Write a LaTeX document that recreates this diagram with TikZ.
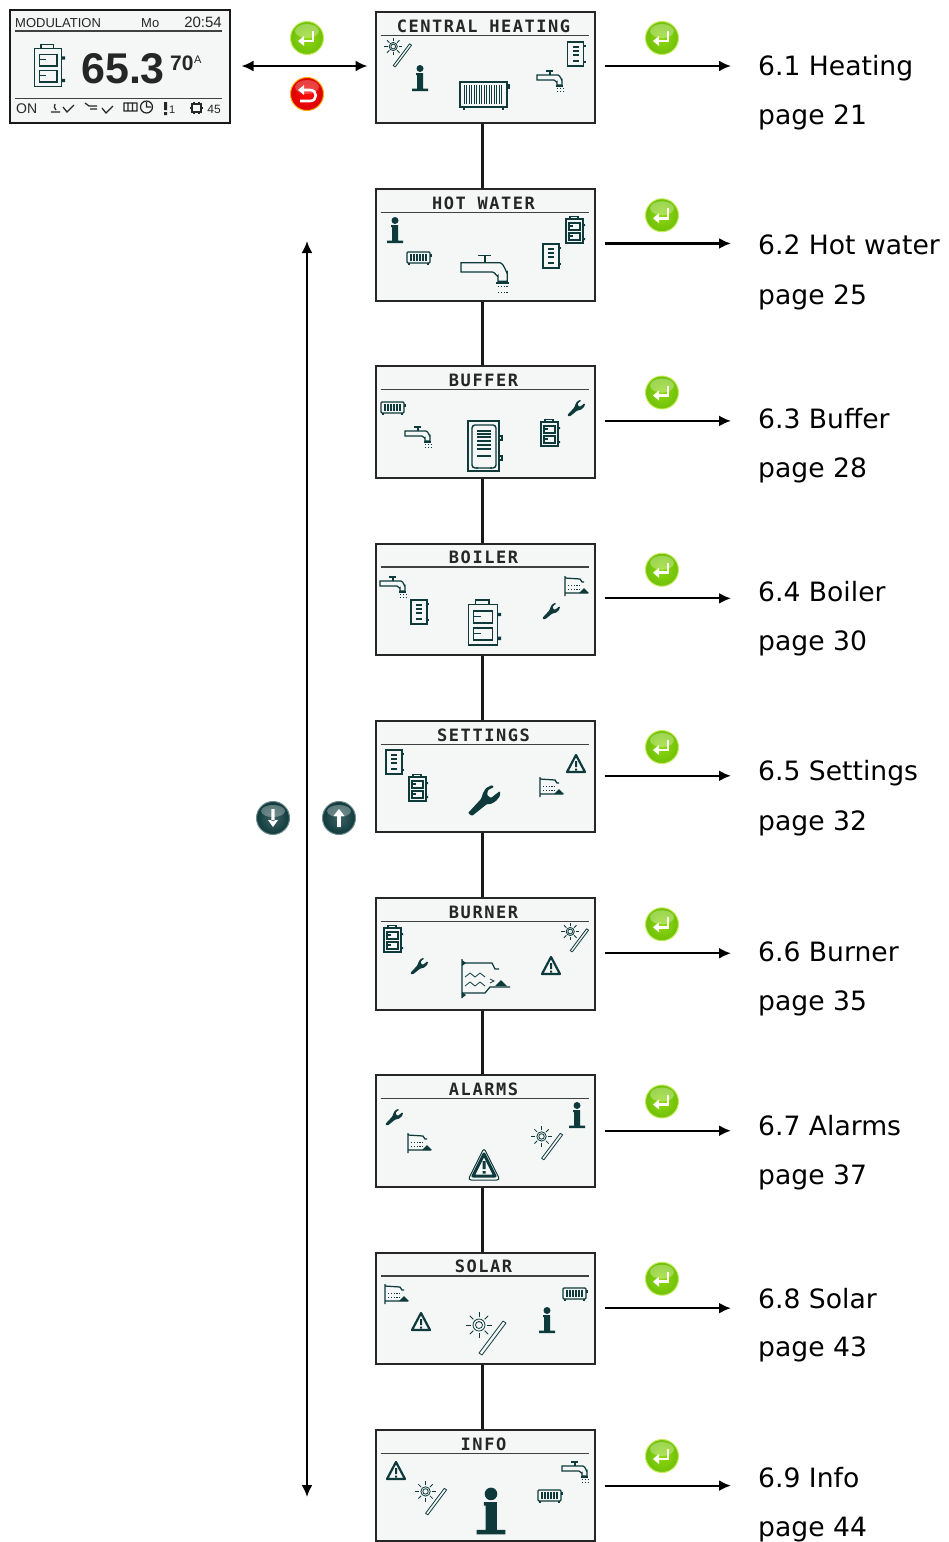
\documentclass[tikz,border=0pt]{standalone}
\usepackage{fontspec}
\setmainfont{DejaVu Sans}
\newfontfamily\lcdfont[LetterSpace=9]{DejaVu Sans Mono}
\newfontfamily\panelfont{Liberation Sans}
\usetikzlibrary{arrows.meta, calc}
\definecolor{lcdink}{HTML}{0F3A3C}
\definecolor{lcdback}{HTML}{F4F7F6}
\definecolor{framecolor}{HTML}{262626}
\tikzset{
    icon/.style={draw=lcdink, line width=1.25pt, fill=none},
    tinydots/.style={draw=lcdink, line width=1pt, dash pattern=on 1.2pt off 1.6pt},
    tapicon/.pic={
        \draw[icon] (-13,-5) -- (8,-5) to[out=0,in=-90] (12,0) -- (12,5) -- (7,5) -- (7,2) to[out=-90,in=0] (4,0) -- (-13,0) -- cycle;
        \draw[icon] (-4,-9) -- (3,-9) (0,-9) -- (0,-5) (6,6) -- (13,6);
        \draw[tinydots] (7,8) -- (13,8) (7,11) -- (13,11);
    },
    radicon/.pic={
        \draw[icon, rounded corners=1pt] (-12,-6) rectangle (11,5);
        \draw[icon] (-10,5) -- (-10,7) (9,5) -- (9,7);
        \fill[lcdink] (11,-4) rectangle (13,-1);
        \foreach \b in {-8,-5,...,7} \draw[icon] (\b,-4) -- (\b,3);
    },
    radbigicon/.pic={
        \draw[icon, line width=1.3pt] (-24,-13) rectangle (23,12);
        \draw[icon, line width=1.3pt] (-20,12) -- (-20,15) (19,12) -- (19,15);
        \fill[lcdink] (23,-11) rectangle (26,-6);
        \foreach \b in {-20,-17.5,...,19} \draw[icon, line width=.9pt] (\b,-10) -- (\b,9);
    },
    tankicon/.pic={
        \draw[icon, line width=1.3pt] (-8,-12) rectangle (8,12);
        \draw[icon] (8,-8) -- (10,-8) (8,8) -- (10,8);
        \foreach \b in {-7,-3,1,7} \draw[icon] (-3,\b) -- (3,\b);
    },
    tankbigicon/.pic={
        \draw[icon] (-16,-25) rectangle (15,25);
        \draw[icon, line width=1.4pt, rounded corners=3pt] (-12,-21) rectangle (12,22);
        \draw[icon] (15,-10) -- (18,-10) -- (18,-6) -- (15,-6) (15,10) -- (18,10) -- (18,14) -- (15,14);
        \foreach \b in {-15,-12,-9,-5,-1,3,10} \draw[icon] (-7,\b) -- (7,\b);
        \fill[lcdink] (-7,22) circle (1.2) (7,22) circle (1.2);
    },
    boilericon/.pic={
        \draw[icon, line width=1.3pt] (-9,-11) rectangle (8,13);
        \draw[icon] (-5,-11) -- (-5,-13.5) -- (3,-13.5) -- (3,-11);
        \draw[icon] (-6,-7) rectangle (5,0);
        \draw[icon] (-6,3) rectangle (5,10);
        \draw[icon] (-6,-4) -- (-2,-4) (-6,6) -- (-2,6);
        \fill[lcdink] (8,-6) rectangle (10,-4) (8,8) rectangle (10,10);
    },
    wrenchicon/.pic={
        \fill[lcdink, rounded corners=1pt] (-16,13) -- (-3,-1) -- (-1,-7) -- (2,-12) -- (8,-15) -- (10,-13) -- (4,-10) -- (3,-5) -- (7,-2) -- (12,-6) -- (16,-9) -- (16,-4) -- (12,1) -- (7,4) -- (3,4) -- (-12,16) -- cycle;
    },
    alerticon/.pic={
        \draw[icon, line width=2.2pt, line join=round] (0,-9) -- (9,8) -- (-9,8) -- cycle;
        \fill[lcdink] (-1,-3) rectangle (1,3) (-1,4.5) rectangle (1,6.5);
    },
    alertbigicon/.pic={
        \draw[icon, line width=1pt, line join=round, rounded corners=3pt] (0,-17) -- (16,15) -- (-16,15) -- cycle;
        \draw[icon, line width=3pt, line join=round] (0,-11) -- (11,11) -- (-11,11) -- cycle;
        \fill[lcdink] (-1.5,-4) rectangle (1.5,4) (-1.5,6) rectangle (1.5,8.5);
    },
    infoicon/.pic={
        \fill[lcdink] (0,-9.5) circle (3.5);
        \fill[lcdink] (-4,-5) rectangle (3.2,-3) (-3,-5) rectangle (3.2,11) (-8,10.5) rectangle (8,13);
    },
    solaricon/.pic={
        \draw[icon, line width=.8pt] (-7,-11) circle (6) (-7,-11) circle (3.5);
        \foreach \a in {0,45,...,315} \draw[icon, line width=.8pt] ($(-7,-11)+(\a:8)$) -- ($(-7,-11)+(\a:13)$);
        \draw[icon, line width=.8pt, line join=round] (17,-15) -- (20,-13) -- (-4,19) -- (-7,17) -- cycle;
    },
    feedericon/.pic={
        \draw[icon] (-11,-10) -- (-11,10) (-11,-8) -- (4,-7) -- (6,-4) -- (8,-4) (-11,7) -- (12,7);
        \fill[lcdink] (3,7) -- (8,2) -- (13,7) -- cycle;
        \draw[tinydots] (-8,-1) -- (4,-1) (-8,3) -- (4,3);
    },
    burnericon/.pic={
        \draw[icon] (-23,-19) -- (-23,20) (-23,-15) -- (7,-15) -- (10,-9) -- (14,-9) (-23,15) -- (0,15) -- (5,9) -- (25,9);
        \fill[lcdink] (-23,-18) -- (-19,-15) -- (-23,-12) -- cycle (-23,14) -- (-19,17) -- (-23,20) -- cycle;
        \draw[icon, line width=.8pt] (-20,-1) -- (-15,-5) -- (-10,-1) -- (-5,-5) -- (0,-1) (-20,8) -- (-15,4) -- (-10,8) -- (-5,4) -- (0,8) (5,1) -- (9,3) -- (5,5);
        \fill[lcdink] (10,8) -- (16,2) -- (22,8) -- cycle;
    },
    okglyph/.pic={
        \draw[white, line width=2.6pt] (6,-7) -- (6,3) -- (-3,3);
        \fill[white] (-9,3) -- (-3,-2) -- (-3,8) -- cycle;
    },
    backglyph/.pic={
        \draw[white, line width=2.6pt] (-3,-4) -- (3,-4) to[out=0,in=0,looseness=1.8] (3,7) -- (-7,7);
        \fill[white] (-9,-4) -- (-3,-9) -- (-3,1) -- cycle;
    },
    downglyph/.pic={
        \fill[white] (-1.6,-9) rectangle (1.6,3) (-5,2) -- (5,2) -- (0,9) -- cycle;
    },
    upglyph/.pic={
        \fill[white] (-1.8,9) rectangle (1.8,-2) (-5.5,-2) -- (5.5,-2) -- (0,-9) -- cycle;
    },
}
\begin{document}
\begin{tikzpicture}[
    x=1pt, y=-1pt,
    screen/.style={draw=framecolor, line width=2pt, fill=lcdback, minimum width=219pt, minimum height=111.5pt, inner sep=0pt},
    screentitle/.style={font=\lcdfont\bfseries\fontsize{17}{17}\selectfont, text=black!85, inner sep=0pt},
    titlerule/.style={draw=black!75, line width=1.4pt},
    link/.style={draw=black!90, line width=3pt},
    flow/.style={draw=black, line width=2.2pt, -{Latex[length=12pt,width=11pt]}},
    bothways/.style={draw=black, line width=2.2pt, {Latex[length=12pt,width=11pt]}-{Latex[length=12pt,width=11pt]}},
    section/.style={font=\fontsize{26.6}{27}\selectfont, anchor=west, inner sep=0pt, text height=22pt, text depth=4pt},
    btn/.style={circle, minimum size=33pt, inner sep=0pt},
    okbtn/.style={btn, draw={rgb,255:red,196;green,236;blue,90}, line width=1pt, inner color={rgb,255:red,143;green,216;blue,15}, outer color={rgb,255:red,111;green,192;blue,8}},
    backbtn/.style={btn, draw=orange!70!yellow, line width=1pt, inner color=red!95!white, outer color=red!85!black},
    navbtn/.style={btn, draw=lcdink!60, line width=1pt, inner color=lcdink!80, outer color=lcdink},
    panel/.style={font=\panelfont\fontsize{#1}{#1}\selectfont, inner sep=0pt, text=black!85},
]
    \useasboundingbox (0,0) rectangle (948,1542);
    % Status display
    \node[screen, minimum width=220pt, minimum height=113pt, draw=black!90, line width=2pt] (display) at (119.5,66) {};
    \node[panel=13, anchor=base west] (modtext) at (15,27.5) {MODULATION};
    \node[panel=13, anchor=base west] (daytext) at (141,27.5) {Mo};
    \node[panel=15, anchor=base east] (timetext) at (222,27.5) {20:54};
    \draw[titlerule, line width=1.6pt] (15,31) -- (222,31);
    \draw[titlerule, line width=1.6pt] (15,98.5) -- (222,98.5);
    \pic[scale=1.6] at (49,66) {boilericon};
    \node[panel=43, anchor=base west, font=\panelfont\bfseries\fontsize{43}{43}\selectfont] (tempmain) at (81,83) {65.3};
    \node[panel=22, anchor=base west, font=\panelfont\bfseries\fontsize{21}{21}\selectfont] (tempset) at (170,70) {70};
    \node[panel=11, anchor=base west] (tempmode) at (194,63) {A};
    \node[panel=14, anchor=base west] (ontext) at (16,113.5) {ON};
    \node[panel=11, anchor=base west] (faultcount) at (169,113) {1};
    \node[panel=12, anchor=base east] (powertext) at (221,113) {45};
    % Status bar symbols
    \draw[icon, draw=black!85] (51,112) -- (60,112) (55,104) to[bend right=40] (56,110) (63,107) -- (67,112) -- (74,105) (85,103) -- (89,106) -- (97,106) (90,109) -- (97,109) (102,108) -- (106,113) -- (113,106);
    \draw[icon, draw=black!85] (124,103) rectangle (137,111) (128,103) -- (128,111) (132.5,103) -- (132.5,111) (146.5,107) circle (6) (146.5,102) -- (146.5,107) -- (151,107);
    \fill[black!85] (164,102) rectangle (167,110) (164,112) rectangle (167,115);
    \draw[icon, draw=black!85] (192,104) rectangle (201,112) (190,108) -- (192,108) (201,108) -- (203,108) (194,102) -- (194,104) (199,102) -- (199,104) (194,112) -- (194,114) (199,112) -- (199,114);
    
    % Screens and chapter references
    \foreach \i/\ttl/\sect/\pg/\ya/\yb in {
        1/CENTRAL HEATING/Heating/21/66/115,
        2/HOT WATER/Hot water/25/245/295,
        3/BUFFER/Buffer/28/419/468,
        4/BOILER/Boiler/30/592/641,
        5/SETTINGS/Settings/32/771/821,
        6/BURNER/Burner/35/952/1001,
        7/ALARMS/Alarms/37/1126/1175,
        8/SOLAR/Solar/43/1299/1347,
        9/INFO/Info/44/1478/1527}{
        \pgfmathsetmacro{\ytop}{12+177.25*(\i-1)}
        \pgfmathsetmacro{\yflow}{66+177.45*(\i-1)}
        \node[screen] (screen\i) at (485,\ytop+55.5) {};
        \node[screentitle] (title\i) at (483.5,\ytop+14) {\ttl};
        \draw[titlerule] ([shift={(6,24.5)}]screen\i.north west) -- ([shift={(-7,24.5)}]screen\i.north east);
        \node[okbtn] (ok\i) at (662,\ytop+26) {};
        \fill[white, opacity=.3] (662,\ytop+19) ellipse (12 and 7);
        \pic at (ok\i) {okglyph};
        \node[section] (head\i) at (758,\ya) {6.\i\ \sect};
        \node[section] (page\i) at (758,\yb) {page \pg};
        \coordinate (end\i) at (731,\yflow);
        \draw[flow, shorten <=9pt] (screen\i.east |- end\i) -- (end\i);
    }
    
    % Links between screens
    \foreach \i/\j in {1/2,2/3,3/4,4/5,5/6,6/7,7/8,8/9}
        \draw[link] ([xshift=-3pt]screen\i.south) -- ([xshift=-3pt]screen\j.north);
    
    % Screen symbols
    \foreach \kind/\sz/\x/\y in {
        solaricon/.68/398/54, infoicon/1/420/78, radbigicon/1/484/95, tapicon/1/550/80, tankicon/1/575.5/54,
        infoicon/1/395/230, radicon/1/419/258, tapicon/1.85/485/272, tankicon/1/551/256, boilericon/1/575/230,
        radicon/1/393/408, tapicon/1/418/436, tankbigicon/1/484/446, boilericon/1/550/433, wrenchicon/.55/576/408,
        tapicon/1/393/586, tankicon/1/419/612, boilericon/1.7/484/623, wrenchicon/.55/551/611, feedericon/1/576/586,
        tankicon/1/394/762, boilericon/1/418/788, wrenchicon/1/484/800, feedericon/1/551/787, alerticon/1/576/764,
        boilericon/1/393/939, wrenchicon/.55/419/966, burnericon/1/485/978, alerticon/1/551/966, solaricon/.68/575/939,
        wrenchicon/.55/394/1117, feedericon/1/419/1143, alertbigicon/1/484/1165, solaricon/.78/547/1145, infoicon/1/577/1115,
        feedericon/1/396/1294, alerticon/1/421/1322, solaricon/1/486/1336, infoicon/1/547/1320, radicon/1/575/1294,
        alerticon/1/396/1471, solaricon/.78/431/1500, infoicon/1.8/491/1511, radicon/1/550/1496, tapicon/1/575/1471}
        \pic[scale=\sz] at (\x,\y) {\kind};
    
    % Start screen arrow and keys
    \draw[bothways, shorten <=11pt, shorten >=7pt] (display.east) -- (screen1.west |- display.east);
    \node[okbtn] (enterkey) at (307,38) {};
    \fill[white, opacity=.3] (307,31) ellipse (12 and 7);
    \pic at (enterkey) {okglyph};
    \node[backbtn] (backkey) at (307,94) {};
    \fill[white, opacity=.25] (307,87) ellipse (12 and 7);
    \pic at (backkey) {backglyph};
    
    % Navigation arrow and keys
    \coordinate (navtop) at (307,241);
    \coordinate (navbottom) at (307,1497);
    \draw[bothways] (navtop) -- (navbottom);
    \node[navbtn] (downkey) at (273,818) {};
    \fill[white, opacity=.3] (273,811) ellipse (12 and 6);
    \pic at (downkey) {downglyph};
    \node[navbtn] (upkey) at (339,818) {};
    \fill[white, opacity=.3] (339,811) ellipse (12 and 6);
    \pic at (upkey) {upglyph};
\end{tikzpicture}
\end{document}
